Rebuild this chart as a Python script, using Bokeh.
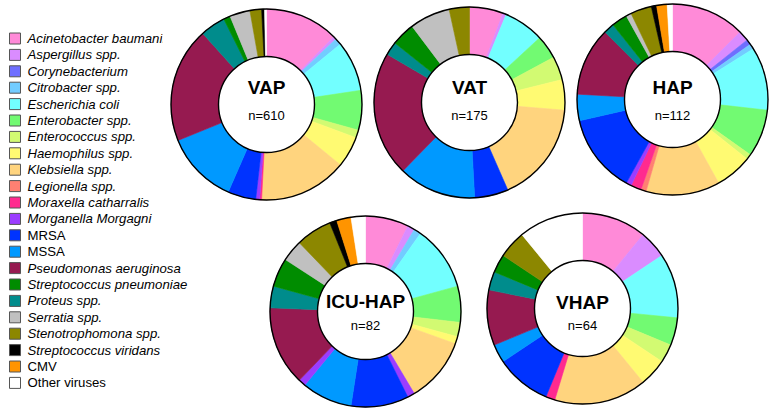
import numpy as np
from bokeh.plotting import figure
from bokeh.models import Range1d, ColumnDataSource
from bokeh.core.properties import value
from bokeh.embed import file_html
from bokeh.resources import INLINE

# ---------------- data ----------------
legend_labels = [
    "Acinetobacter baumanii", "Aspergillus spp.", "Corynebacterium", "Citrobacter spp.",
    "Escherichia coli", "Enterobacter spp.", "Enterococcus spp.", "Haemophilus spp.",
    "Klebsiella spp.", "Legionella spp.", "Moraxella catharralis", "Morganella Morgagni",
    "MRSA", "MSSA", "Pseudomonas aeruginosa", "Streptococcus pneumoniae", "Proteus spp.",
    "Serratia spp.", "Stenotrophomona spp.", "Streptococcus viridans", "CMV", "Other viruses",
]
upright_labels = ["MRSA", "MSSA", "CMV", "Other viruses"]

colors = {
    "Acinetobacter baumanii": "#FF8AD8",
    "Aspergillus spp.": "#DA8CFF",
    "Corynebacterium": "#6E6EFF",
    "Citrobacter spp.": "#72CCFF",
    "Escherichia coli": "#72FFFF",
    "Enterobacter spp.": "#72FA72",
    "Enterococcus spp.": "#D2FA72",
    "Haemophilus spp.": "#FFFA72",
    "Klebsiella spp.": "#FFD47E",
    "Legionella spp.": "#FF8072",
    "Moraxella catharralis": "#FF2A8F",
    "Morganella Morgagni": "#9B3CFF",
    "MRSA": "#0033FF",
    "MSSA": "#0099FF",
    "Pseudomonas aeruginosa": "#961A50",
    "Streptococcus pneumoniae": "#008C00",
    "Proteus spp.": "#008C8C",
    "Serratia spp.": "#C0C0C0",
    "Stenotrophomona spp.": "#8C8700",
    "Streptococcus viridans": "#000000",
    "CMV": "#FF9400",
    "Other viruses": "#FFFFFF",
}

# order of slices clockwise from 12 o'clock
pie_order = [
    "Acinetobacter baumanii", "Aspergillus spp.", "Corynebacterium", "Citrobacter spp.",
    "Escherichia coli", "Enterobacter spp.", "Enterococcus spp.", "Haemophilus spp.",
    "Klebsiella spp.", "Legionella spp.", "Moraxella catharralis", "Morganella Morgagni",
    "MRSA", "MSSA", "Morganella Morgagni", "Pseudomonas aeruginosa", "Proteus spp.",
    "Streptococcus pneumoniae", "Serratia spp.", "Stenotrophomona spp.",
    "Streptococcus viridans", "CMV", "Other viruses",
]

chart_names = ["VAP", "VAT", "HAP", "ICU-HAP", "VHAP"]
vap_counts = [76, 3, 0, 7, 52, 41, 8, 32, 91, 0, 2, 4, 29, 75, 0, 119, 26, 7, 21, 12, 3, 0, 2]
vat_counts = [10, 1, 0, 0, 12, 7, 7, 9, 30, 0, 0, 0, 10, 23, 0, 37, 4, 7, 12, 6, 0, 0, 0]
hap_counts = [14, 2, 1, 1, 12, 9, 1, 7, 14, 1, 2, 1, 15, 5, 0, 13, 2, 3, 1, 4, 1, 2, 1]
icu_hap_counts = [6, 1, 0, 1, 9, 5, 2, 1, 9, 0, 0, 1, 8, 7, 1, 11, 3, 4, 3, 5, 1, 2, 2]
vhap_counts = [7, 3, 0, 0, 7, 3, 2, 3, 10, 0, 1, 0, 6, 2, 0, 6, 2, 2, 0, 3, 0, 0, 7]
all_counts = [vap_counts, vat_counts, hap_counts, icu_hap_counts, vhap_counts]

# ---------------- layout (screen pixels) ----------------
centers = [(266, 104), (469, 102), (672, 99), (365, 311), (582, 308)]
title_dy = [-17, -15, -12, -10, -6]
n_dy = [11, 13, 16, 14, 17]
R_OUT, R_IN = 95.5, 48
FONT = value("Liberation Sans")
H = 420  # data y = H - screen y

p = figure(width=783, height=420, x_range=Range1d(0, 783), y_range=Range1d(0, 420),
           output_backend="svg", toolbar_location=None, min_border=0)
p.axis.visible = False
p.grid.visible = False
p.outline_line_color = None

# ---------------- legend ----------------
row_y = [H - (38 + i * 16.4) for i in range(len(legend_labels))]
leg_src = ColumnDataSource(dict(
    y=row_y,
    label=legend_labels,
    color=[colors[l] for l in legend_labels],
    style=["normal" if l in upright_labels else "italic" for l in legend_labels],
))
p.rect(x=14.5, y="y", width=11, height=11, fill_color="color", line_color="#555555",
       line_width=1, source=leg_src)
p.text(x=27, y="y", text="label", text_font=FONT, text_font_size="13.2px",
       text_font_style="style", text_baseline="middle", text_align="left",
       text_color="black", source=leg_src)
# the top-row panel hides the tail of the first, longest label
p.quad(left=[162], right=[172], bottom=[H - 46], top=[H - 28], fill_color="white",
       line_color=None)

# ---------------- donuts ----------------
for name, counts, (cx, cy), tdy, ndy in zip(chart_names, all_counts, centers, title_dy, n_dy):
    counts = np.array(counts, dtype=float)
    total = counts.sum()
    cum = np.concatenate([[0], np.cumsum(counts)])
    frac0 = cum[:-1] / total
    frac1 = cum[1:] / total
    keep = counts > 0
    start = np.pi / 2 - 2 * np.pi * frac0[keep]
    end = np.pi / 2 - 2 * np.pi * frac1[keep]
    cols = [colors[c] for c, k in zip(pie_order, keep) if k]
    y = H - cy
    src = ColumnDataSource(dict(start=start, end=end, color=cols))
    p.annular_wedge(x=cx, y=y, inner_radius=R_IN, outer_radius=R_OUT,
                    start_angle="start", end_angle="end", direction="clock",
                    fill_color="color", line_color="color", line_width=0.6, source=src)
    p.circle(x=[cx], y=[y], radius=R_OUT, fill_color=None, line_color="black", line_width=1.4)
    p.circle(x=[cx], y=[y], radius=R_IN, fill_color="white", line_color="black", line_width=1.4)
    p.text(x=[cx], y=[H - (cy + tdy)], text=[name], text_font=FONT, text_font_size="19px",
           text_font_style="bold", text_align="center", text_baseline="middle",
           text_color="black")
    p.text(x=[cx], y=[H - (cy + ndy)], text=[f"n={int(total)}"], text_font=FONT,
           text_font_size="13px", text_align="center", text_baseline="middle",
           text_color="black")

open("out.html", "w").write(file_html(p, INLINE))
